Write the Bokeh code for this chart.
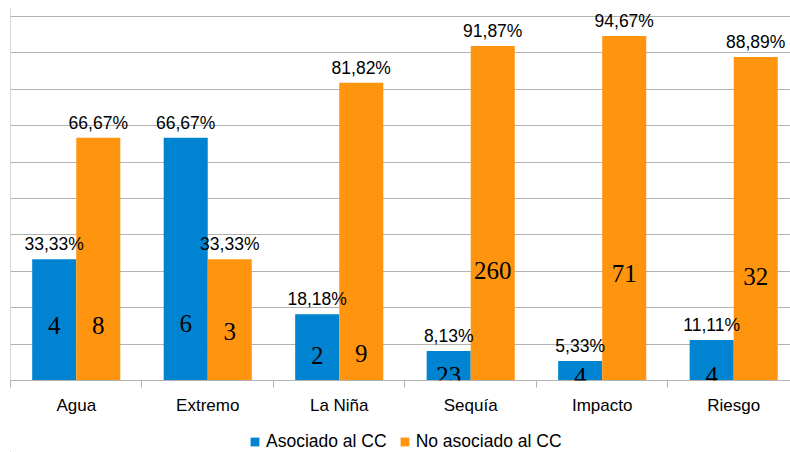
from bokeh.plotting import figure
from bokeh.layouts import column
from bokeh.models import (ColumnDataSource, Range1d, FixedTicker, Grid, Span,
                          Legend, LegendItem, LabelSet)
from bokeh.core.properties import value
from bokeh.embed import file_html
from bokeh.resources import INLINE

# ---- data ----
categories = ["Agua", "Extremo", "La Niña", "Sequía", "Impacto", "Riesgo"]
pct_asociado = [33.33, 66.67, 18.18, 8.13, 5.33, 11.11]
pct_no_asociado = [66.67, 33.33, 81.82, 91.87, 94.67, 88.89]
n_asociado = [4, 6, 2, 23, 4, 4]
n_no_asociado = [8, 3, 9, 260, 71, 32]
series_names = ["Asociado al CC", "No asociado al CC"]

# vertical placement of the count labels (layout, in % units of the axis)
count_y_asociado = [15.0, 15.7, 6.9, 1.4, 1.2, 1.4]
count_y_no_asociado = [15.0, 13.5, 7.4, 30.2, 29.4, 28.6]

BLUE = "#0084d1"
ORANGE = "#ff950e"
GRAY = "#b3b3b3"
OFF = 0.1675
BAR_W = 0.335

idx = list(range(len(categories)))
def fmt(v):
    return f"{v:.2f}%".replace(".", ",")

src_a = ColumnDataSource(dict(
    x=[i + 0.5 - OFF for i in idx], top=pct_asociado,
    lab=[fmt(v) for v in pct_asociado],
    n=[str(v) for v in n_asociado], ny=count_y_asociado))
src_b = ColumnDataSource(dict(
    x=[i + 0.5 + OFF for i in idx], top=pct_no_asociado,
    lab=[fmt(v) for v in pct_no_asociado],
    n=[str(v) for v in n_no_asociado], ny=count_y_no_asociado))

p = figure(width=790, height=418, x_range=Range1d(0, 5.932), y_range=Range1d(0, 102.2),
           output_backend="svg", toolbar_location=None, y_axis_location=None,
           min_border_left=10, min_border_right=0, min_border_top=8, min_border_bottom=38)
p.outline_line_color = None
p.xgrid.visible = False
p.add_layout(Grid(dimension=1, ticker=FixedTicker(ticks=list(range(10, 101, 10))),
                  grid_line_color=GRAY, grid_line_width=1))
p.add_layout(Span(location=0, dimension="height", line_color=GRAY, line_width=1))

ax = p.xaxis[0]
ax.ticker = FixedTicker(ticks=[i + 0.5 for i in idx], minor_ticks=list(range(len(categories) + 1)))
ax.major_label_overrides = {i + 0.5: c for i, c in zip(idx, categories)}
ax.major_tick_out = 0
ax.major_tick_in = 0
ax.minor_tick_in = 0
ax.minor_tick_out = 7
ax.minor_tick_line_color = GRAY
ax.axis_line_color = GRAY
ax.major_label_standoff = 8
ax.major_label_text_font = "Liberation Sans"
ax.major_label_text_font_size = "17px"
ax.major_label_text_color = "#000000"

p.vbar(x="x", top="top", width=BAR_W, source=src_a, fill_color=BLUE, line_color=None)
p.vbar(x="x", top="top", width=BAR_W, source=src_b, fill_color=ORANGE, line_color=None)

for s in (src_a, src_b):
    p.text(x="x", y="top", text="lab", source=s, text_align="center",
           text_baseline="alphabetic", y_offset=-15, text_font=value("Liberation Sans"),
           text_font_size="17.5px", text_color="#000000")
    p.add_layout(LabelSet(x="x", y="ny", text="n", source=s, text_align="center",
                          text_baseline="middle", text_font=value("Liberation Serif"),
                          text_font_size="25px", text_color="#000000"))

# ---- legend strip ----
pl = figure(width=790, height=34, x_range=Range1d(0, 790), y_range=Range1d(0, 34),
            output_backend="svg", toolbar_location=None, x_axis_location=None,
            y_axis_location=None, min_border=0)
pl.outline_line_color = None
pl.grid.visible = False
l1 = pl.vbar(x=[-100], top=[1], width=1, fill_color=BLUE, line_color=None)
l2 = pl.vbar(x=[-100], top=[1], width=1, fill_color=ORANGE, line_color=None)
legend = Legend(items=[LegendItem(label=series_names[0], renderers=[l1]),
                       LegendItem(label=series_names[1], renderers=[l2])],
                orientation="horizontal", location=(239, 0), border_line_color=None,
                background_fill_alpha=0, label_text_font="Liberation Sans",
                label_text_font_size="17.5px", label_text_color="#000000",
                glyph_width=11, glyph_height=11,
                label_standoff=6, spacing=12, padding=0, margin=0, label_height=20)
pl.add_layout(legend, "center")

layout = column(p, pl, spacing=0)
open("out.html", "w").write(file_html(layout, INLINE))
